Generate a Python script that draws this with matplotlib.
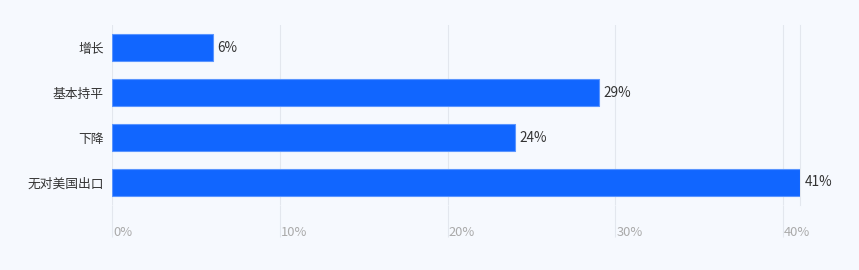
import matplotlib.pyplot as plt
import matplotlib.transforms as mtrans

plt.rcParams['font.family'] = ['Noto Sans CJK SC', 'DejaVu Sans']

# data
categories = ['增长', '基本持平', '下降', '无对美国出口']
values = [6, 29, 24, 41]
ticks = [0, 10, 20, 30, 40]
tick_labels = ['0%', '10%', '20%', '30%', '40%']

bg = '#f6f9fe'
grid_col = '#e3e7ee'

fig = plt.figure(figsize=(8.59, 2.70), dpi=100, facecolor=bg)
ax = fig.add_axes([112/859, 65/270, 688/859, 180/270], facecolor=bg)

y = list(range(len(categories)))
bars = ax.barh(y, values, height=0.61, color='#1166ff', edgecolor='#5a95ff',
               linewidth=0.8, zorder=3)
ax.bar_label(bars, labels=[f'{v}%' for v in values], padding=3.5,
             fontsize=9.8, color='#333333')

ax.set_xlim(0, 41)
ax.set_ylim(len(categories) - 0.5, -0.5)
ax.set_yticks(y)
ax.set_yticklabels(categories, fontsize=9.2, color='#333333')
ax.tick_params(axis='y', length=0, pad=6)

ax.set_xticks(ticks)
ax.set_xticklabels(tick_labels, fontsize=9.3, color='#aaaaaa', ha='left')
ax.tick_params(axis='x', direction='out', length=23, width=0.8,
               color=grid_col, pad=-8)
ax.grid(axis='x', color=grid_col, linewidth=0.8, zorder=0)

for s in ['top', 'bottom', 'left']:
    ax.spines[s].set_visible(False)
ax.spines['right'].set_color(grid_col)
ax.spines['right'].set_linewidth(0.8)

# tick labels sit just right of their gridlines
off = mtrans.ScaledTranslation(1/100, 0, fig.dpi_scale_trans)
for lab in ax.get_xticklabels():
    lab.set_transform(lab.get_transform() + off)

fig.savefig('out.png', dpi=100, facecolor=bg)
